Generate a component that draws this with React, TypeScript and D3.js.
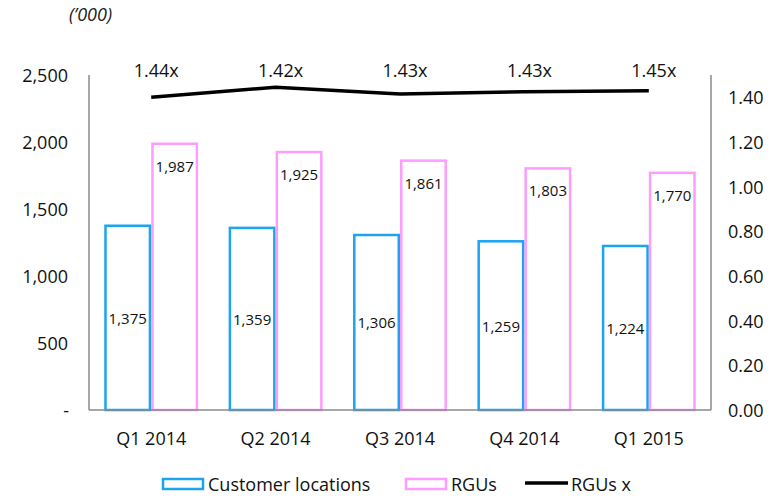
import { useMemo } from 'react'
import * as d3 from 'd3'

const quarters = ['Q1 2014', 'Q2 2014', 'Q3 2014', 'Q4 2014', 'Q1 2015']
const customerLocations = [1375, 1359, 1306, 1259, 1224]
const rgus = [1987, 1925, 1861, 1803, 1770]
// plotted ratio line (as drawn) and the printed labels
const rgusX = [1.4, 1.445, 1.415, 1.425, 1.43]
const rgusXLabels = ['1.44x', '1.42x', '1.43x', '1.43x', '1.45x']
const leftTicks = [0, 500, 1000, 1500, 2000, 2500]
const rightTicks = [0, 0.2, 0.4, 0.6, 0.8, 1.0, 1.2, 1.4]

const width = 778
const height = 496
const margin = { top: 75, right: 67, bottom: 86, left: 89 }
const blue = '#1ba4f0'
const pink = '#ff9cff'
const axisColor = '#8a8a8a'
const font = '"Open Sans", sans-serif'

export default function App() {
  const x0 = margin.left
  const x1 = width - margin.right
  const y0 = height - margin.bottom
  const y1 = margin.top

  const x = useMemo(
    () =>
      d3
        .scaleBand<string>()
        .domain(quarters)
        .range([x0, x1])
        .paddingInner(0.245)
        .paddingOuter(0.1225),
    [],
  )
  const sub = d3
    .scaleBand<string>()
    .domain(['cust', 'rgu'])
    .range([0, x.bandwidth()])
  const yLeft = d3.scaleLinear().domain([0, 2500]).range([y0, y1])
  const yRight = d3.scaleLinear().domain([0, 1.5]).range([y0, y1])
  const fmt = d3.format(',')

  const line = d3
    .line<number>()
    .x((_, i) => (x(quarters[i]) || 0) + x.bandwidth() / 2)
    .y((d) => yRight(d))

  const sw = 2.5

  return (
    <svg
      width={width}
      height={height}
      style={{ position: 'absolute', left: 0, top: 0, fontFamily: font }}
    >
      <rect width={width} height={height} fill="white" />
      <text x={69} y={21} fontSize={18} fontStyle="italic" fill="#222">
        (’000)
      </text>

      {/* bars */}
      {quarters.map((q, i) => {
        const bx = x(q) || 0
        const cx = bx + (sub('cust') || 0)
        const rx = bx + (sub('rgu') || 0)
        const bw = sub.bandwidth()
        const cTop = yLeft(customerLocations[i])
        const rTop = yLeft(rgus[i])
        return (
          <g key={q}>
            <rect
              x={cx + sw / 2}
              y={cTop}
              width={bw - sw}
              height={y0 - cTop}
              fill="white"
              stroke={blue}
              strokeWidth={sw}
            />
            <rect
              x={rx + sw / 2}
              y={rTop}
              width={bw - sw}
              height={y0 - rTop}
              fill="white"
              stroke={pink}
              strokeWidth={sw}
            />
            <text
              x={cx + bw / 2}
              y={(cTop + y0) / 2}
              textAnchor="middle"
              dominantBaseline="central"
              fontSize={15}
              fill="#111"
            >
              {fmt(customerLocations[i])}
            </text>
            <text
              x={rx + bw / 2}
              y={rTop + 22}
              textAnchor="middle"
              dominantBaseline="central"
              fontSize={15}
              fill="#111"
            >
              {fmt(rgus[i])}
            </text>
            <text
              x={bx + x.bandwidth() / 2}
              y={438}
              textAnchor="middle"
              dominantBaseline="central"
              fontSize={18}
              fill="#111"
            >
              {q}
            </text>
            <text
              x={bx + x.bandwidth() / 2 + 5}
              y={70}
              textAnchor="middle"
              dominantBaseline="central"
              fontSize={18}
              fill="#111"
            >
              {rgusXLabels[i]}
            </text>
          </g>
        )
      })}

      {/* axes */}
      <line x1={x0} x2={x0} y1={y1} y2={y0} stroke={axisColor} strokeWidth={1.5} />
      <line x1={x1} x2={x1} y1={y1} y2={y0} stroke={axisColor} strokeWidth={1.5} />
      <line x1={x0} x2={x1} y1={y0} y2={y0} stroke={axisColor} strokeWidth={1.5} />

      {leftTicks.map((t) => (
        <text
          key={t}
          x={t === 0 ? 69 : 68}
          y={yLeft(t)}
          textAnchor="end"
          dominantBaseline="central"
          fontSize={18}
          fill="#111"
        >
          {t === 0 ? '-' : fmt(t)}
        </text>
      ))}
      {rightTicks.map((t) => (
        <text
          key={t}
          x={728}
          y={yRight(t)}
          textAnchor="start"
          dominantBaseline="central"
          fontSize={18}
          fill="#111"
        >
          {d3.format('.2f')(t)}
        </text>
      ))}

      {/* ratio line */}
      <path d={line(rgusX) || ''} fill="none" stroke="#000" strokeWidth={3.5} />

      {/* legend */}
      <g fontSize={18} fill="#111">
        <rect x={163} y={479} width={40} height={10} fill="white" stroke={blue} strokeWidth={2.5} />
        <text x={208} y={484} dominantBaseline="central">
          Customer locations
        </text>
        <rect x={406} y={479} width={40} height={10} fill="white" stroke={pink} strokeWidth={2.5} />
        <text x={451} y={484} dominantBaseline="central">
          RGUs
        </text>
        <line x1={525} x2={568} y1={483} y2={483} stroke="#000" strokeWidth={3.5} />
        <text x={571} y={484} dominantBaseline="central">
          RGUs x
        </text>
      </g>
    </svg>
  )
}
